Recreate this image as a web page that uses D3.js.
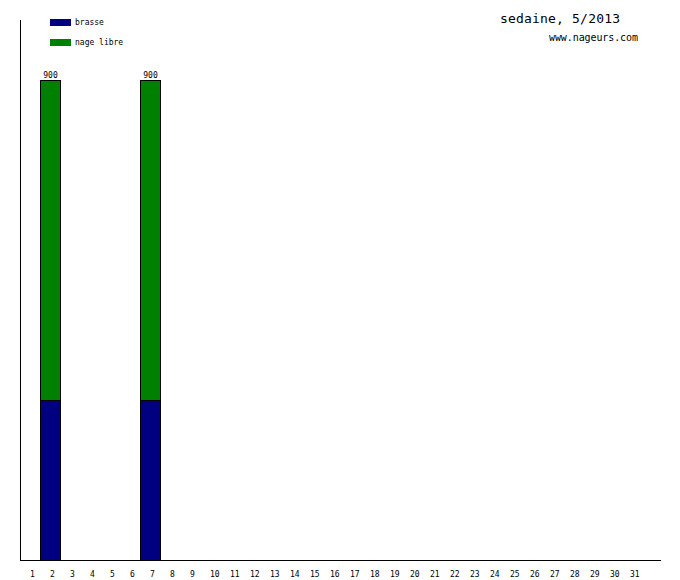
<!DOCTYPE html>
<html>
<head>
<meta charset="utf-8">
<script src="https://cdn.jsdelivr.net/npm/d3@7"></script>
<style>
  body { margin: 0; background: #fff; }
  text { font-family: "DejaVu Sans Mono", monospace; }
</style>
</head>
<body>
<svg id="chart" width="680" height="580"></svg>
<script>
// days of the month
var days = d3.range(1, 32);
// metres swum per day, by stroke
var brasse = [0, 300, 0, 0, 0, 0, 300, 0, 0, 0, 0, 0, 0, 0, 0, 0, 0, 0, 0, 0, 0, 0, 0, 0, 0, 0, 0, 0, 0, 0, 0];
var nageLibre = [0, 600, 0, 0, 0, 0, 600, 0, 0, 0, 0, 0, 0, 0, 0, 0, 0, 0, 0, 0, 0, 0, 0, 0, 0, 0, 0, 0, 0, 0, 0];
var seriesNames = ["brasse", "nage libre"];
var seriesColors = ["#000080", "#008000"];

var svg = d3.select("#chart");

var x = d3.scaleBand()
    .domain(days)
    .range([20, 640])
    .paddingInner(0)
    .paddingOuter(0);

var totals = days.map(function(d, i) { return brasse[i] + nageLibre[i]; });
var y = d3.scaleLinear()
    .domain([0, d3.max(totals)])
    .range([560, 80]);

var table = days.map(function(d, i) {
  return { day: d, brasse: brasse[i], nage: nageLibre[i] };
});
var stack = d3.stack().keys(["brasse", "nage"])(table);

svg.append("g").selectAll("g")
  .data(stack)
  .enter().append("g")
    .attr("fill", function(d, i) { return seriesColors[i]; })
  .selectAll("rect")
  .data(function(d) { return d.filter(function(e) { return e[1] - e[0] > 0; }); })
  .enter().append("rect")
    .attr("x", function(d) { return x(d.data.day) + 0.5; })
    .attr("y", function(d) { return y(d[1]) + 0.5; })
    .attr("width", x.bandwidth())
    .attr("height", function(d) { return y(d[0]) - y(d[1]); })
    .attr("stroke", "#000")
    .attr("stroke-width", 1);

// totals above bars
svg.append("g").selectAll("text")
  .data(table.filter(function(d) { return d.brasse + d.nage > 0; }))
  .enter().append("text")
    .attr("x", function(d) { return x(d.day) + x.bandwidth() / 2 + 0.5; })
    .attr("y", function(d) { return y(d.brasse + d.nage) - 2; })
    .attr("text-anchor", "middle")
    .attr("font-size", 8)
    .text(function(d) { return d.brasse + d.nage; });

// axes lines
svg.append("line")
    .attr("x1", 20.5).attr("x2", 20.5)
    .attr("y1", 20).attr("y2", 560)
    .attr("stroke", "#000");
svg.append("line")
    .attr("x1", 20).attr("x2", 661)
    .attr("y1", 560.5).attr("y2", 560.5)
    .attr("stroke", "#000");

// day labels (left-aligned at band centre)
svg.append("g").selectAll("text")
  .data(days)
  .enter().append("text")
    .attr("x", function(d) { return x(d) + x.bandwidth() / 2; })
    .attr("y", 577)
    .attr("text-anchor", "start")
    .attr("font-size", 8)
    .text(function(d) { return d; });

// legend
var legend = svg.append("g").selectAll("g")
  .data(seriesNames)
  .enter().append("g")
    .attr("transform", function(d, i) { return "translate(50," + (19 + i * 20) + ")"; });
legend.append("rect")
    .attr("width", 21).attr("height", 7)
    .attr("fill", function(d, i) { return seriesColors[i]; });
legend.append("text")
    .attr("x", 25).attr("y", 6)
    .attr("font-size", 8)
    .text(function(d) { return d; });

// title
svg.append("text")
    .attr("x", 500).attr("y", 23)
    .attr("font-size", 13)
    .attr("textLength", 120)
    .attr("lengthAdjust", "spacing")
    .text("sedaine, 5/2013");
svg.append("text")
    .attr("x", 549).attr("y", 41)
    .attr("font-size", 10)
    .attr("textLength", 89)
    .attr("lengthAdjust", "spacing")
    .text("www.nageurs.com");
</script>
</body>
</html>
